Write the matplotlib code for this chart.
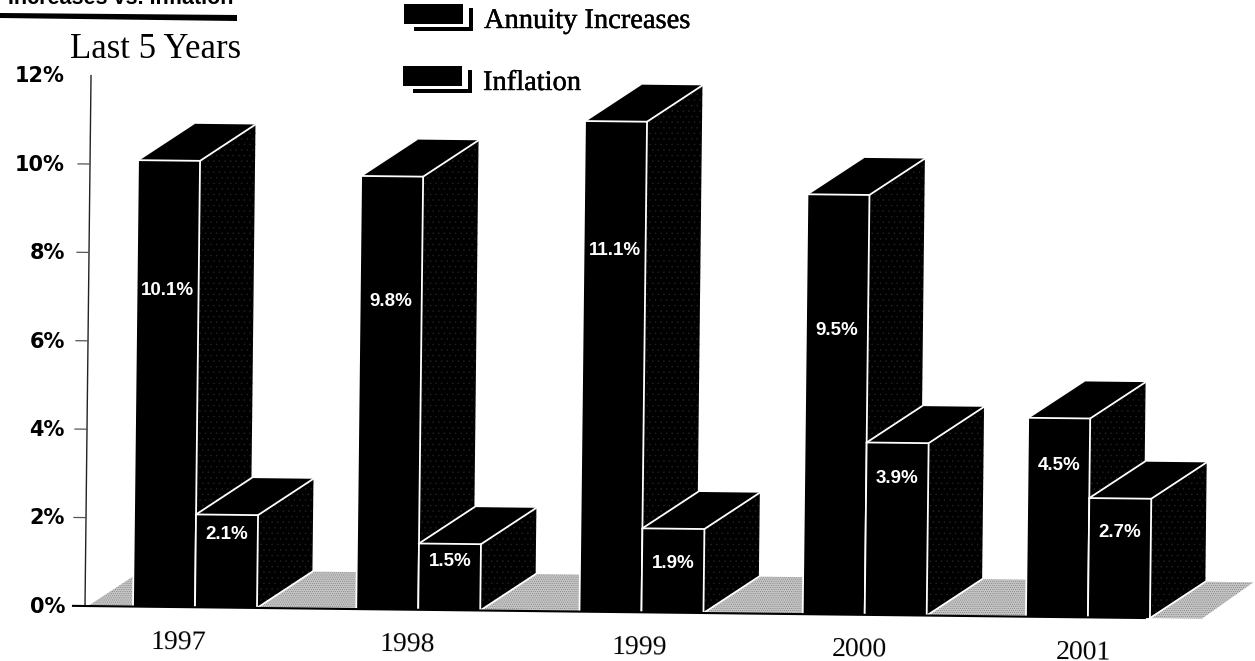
import matplotlib
matplotlib.use("Agg")
import matplotlib.pyplot as plt
import matplotlib.patheffects as pe
from matplotlib.patches import Polygon, Rectangle
from matplotlib.transforms import Affine2D

years = ["1997", "1998", "1999", "2000", "2001"]
annuity_increases = [10.1, 9.8, 11.1, 9.5, 4.5]
inflation = [2.1, 1.5, 1.9, 3.9, 2.7]
y_ticks = [0, 2, 4, 6, 8, 10, 12]

# how far below the bar top each value label sits, in pixels
annuity_label_drop = [130, 125, 129, 136, 47]
inflation_label_drop = [20, 18, 35, 36, 34]
# year labels are not quite centred under the groups
year_nudge = [-16, -10, -2, -5, -4]

W, H = 1255, 661
PX_GROUP = 223.25   # pixels between groups
PX_PCT = 44.2       # pixels per percent
LEFT = 133          # left edge of the first bar
BOTTOM = 55         # baseline, from bottom of the image
BAR_W = 62 / PX_GROUP
DX = 55 / PX_GROUP  # 3d depth
DY = 37 / PX_PCT
TILT = -0.65        # the page was scanned a little crooked

SERIF = "Liberation Serif"
SANS = "Liberation Sans"

plt.rcParams["hatch.linewidth"] = 0.3

fig = plt.figure(figsize=(W / 100, H / 100), dpi=100)
ax = fig.add_axes([0, 0, 1, 1])
ax.set_xlim(-LEFT / PX_GROUP, (W - LEFT) / PX_GROUP)
ax.set_ylim(-BOTTOM / PX_PCT, (H - BOTTOM) / PX_PCT)
ax.axis("off")

tr = ax.transData + Affine2D().rotate_deg_around(85, BOTTOM, TILT)


def xpx(px):
    return (px - LEFT) / PX_GROUP


# one block: front, side and top faces with white edges
def draw_block(x, value, z):
    x2 = x + BAR_W
    front = [(x, 0), (x2, 0), (x2, value), (x, value)]
    side = [(x2, 0), (x2 + DX, DY), (x2 + DX, value + DY), (x2, value)]
    top = [(x, value), (x2, value), (x2 + DX, value + DY), (x + DX, value + DY)]
    ax.add_patch(Polygon(side, transform=tr, facecolor="black", edgecolor="#262626",
                         hatch="...", lw=0, zorder=z))
    ax.add_patch(Polygon(top, transform=tr, facecolor="black", edgecolor="none", zorder=z))
    ax.add_patch(Polygon(front, transform=tr, facecolor="black", edgecolor="none", zorder=z))
    ax.plot([x, x, x2, x2], [0, value, value, 0], transform=tr, color="white", lw=1.3, zorder=z + 0.1)
    ax.plot([x2, x2 + DX], [value, value + DY], transform=tr, color="white", lw=1.3, zorder=z + 0.1)
    ax.plot([x2, x2 + DX], [0, DY], transform=tr, color="white", lw=1.3, zorder=z + 0.1)
    ax.plot([x, x + DX], [value, value + DY], transform=tr, color="white", lw=1.3, zorder=z + 0.1)


# speckled floor
floor = [(xpx(88), 0), (xpx(1202), 0), (xpx(1202) + DX * 0.93, DY), (xpx(88) + DX, DY)]
ax.add_patch(Polygon(floor, transform=tr, facecolor="#c4c4c4", edgecolor="#6e6e6e",
                     hatch="........", lw=0, zorder=1))

for i, year in enumerate(years):
    draw_block(i, annuity_increases[i], 2 + i)
    draw_block(i + BAR_W, inflation[i], 2.5 + i)
    ax.text(i + BAR_W / 2, annuity_increases[i] - annuity_label_drop[i] / PX_PCT,
            f"{annuity_increases[i]}%", transform=tr, color="white", fontsize=13.5,
            fontweight="bold", family=SANS, ha="center", va="center", zorder=20)
    ax.text(i + 1.5 * BAR_W, inflation[i] - inflation_label_drop[i] / PX_PCT,
            f"{inflation[i]}%", transform=tr, color="white", fontsize=13.5,
            fontweight="bold", family=SANS, ha="center", va="center", zorder=20)
    ax.text(i + BAR_W + year_nudge[i] / PX_GROUP, -42 / PX_PCT, year, transform=tr,
            color="black", fontsize=20, family=SERIF, ha="center", va="baseline",
            rotation=TILT, rotation_mode="anchor", zorder=20)

# y axis, ticks and baseline
ax.plot([xpx(85), xpx(85)], [0, 12], transform=tr, color="#222222", lw=1.0, zorder=15)
for t in y_ticks:
    if t > 0 and t < 12:
        ax.plot([xpx(73), xpx(85)], [t, t], transform=tr, color="#555555", lw=0.9, zorder=15)
    ax.text(xpx(65), t - 0.02, f"{t}%", color="black", fontsize=15,
            fontweight="bold", family="DejaVu Sans", ha="right", va="center", zorder=20)
ax.plot([xpx(73), xpx(1145)], [0, 0], transform=tr, color="black", lw=1.5, zorder=15)


# the rest is page furniture, placed in image pixels (y from top)
def fx(px):
    return px / W


def fy(px):
    return 1 - px / H


fig.text(fx(233), fy(4), "Increases vs. Inflation", color="black", fontsize=15.5,
         fontweight="bold", family=SANS, ha="right", va="baseline")
fig.add_artist(Polygon([(fx(0), fy(13)), (fx(237), fy(15)), (fx(237), fy(21)), (fx(0), fy(18))],
                       transform=fig.transFigure, facecolor="black", edgecolor="none"))
fig.text(fx(70), fy(58), "Last 5 Years", color="black", fontsize=25, family=SERIF,
         ha="left", va="baseline")


# legend swatch with its offset L shaped shadow
def swatch(left, top):
    for x0, y0, w, h in [(left, top, 59, 20), (left + 10, top + 23, 59, 4), (left + 65, top + 4, 4, 23)]:
        fig.add_artist(Rectangle((fx(x0), fy(y0 + h)), w / W, h / H, transform=fig.transFigure,
                                 facecolor="black", edgecolor="none"))


swatch(404, 4)
swatch(403, 66)
heavy = [pe.withStroke(linewidth=0.3, foreground="black")]
fig.text(fx(484), fy(28), "Annuity Increases", color="black", fontsize=20.5, family=SERIF,
         ha="left", va="baseline", path_effects=heavy)
fig.text(fx(483), fy(90), "Inflation", color="black", fontsize=20.5, family=SERIF,
         ha="left", va="baseline", path_effects=heavy)

fig.savefig("out.png", dpi=100)
